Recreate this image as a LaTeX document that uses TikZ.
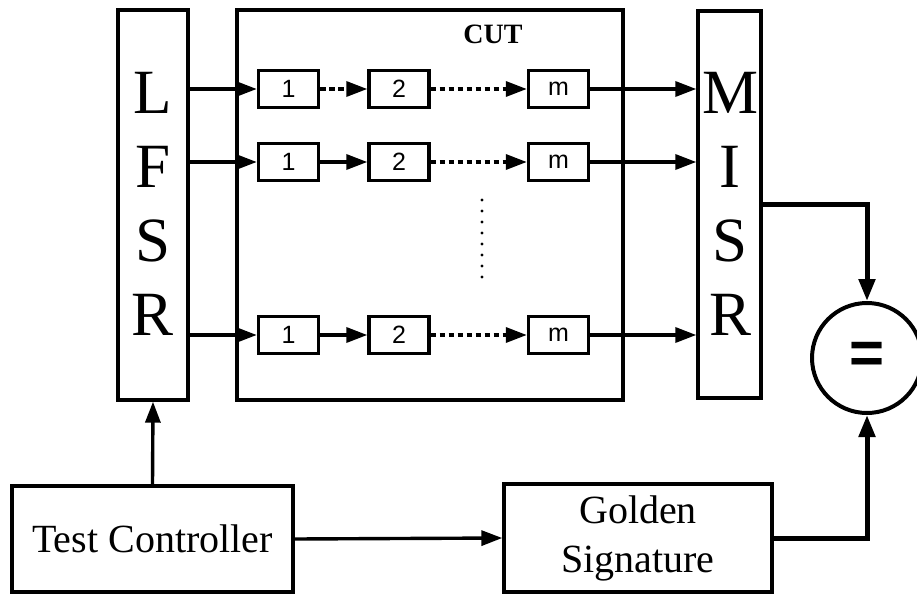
\documentclass[tikz,border=0pt]{standalone}
\usepackage{fontspec}
\setmainfont{Liberation Serif}
\newfontfamily\arialf{Liberation Sans}
\usetikzlibrary{arrows.meta}
\tikzset{
  box/.style={draw, line width=3.4pt, rectangle, inner sep=0pt},
  cell/.style={box, minimum width=60pt, minimum height=37pt, font=\arialf\fontsize{25}{25}\selectfont},
  bigletter/.style={anchor=base, font=\fontsize{63}{63}\selectfont, inner sep=0pt},
  arr/.style={-{Triangle[length=21pt,width=15pt]}, line width=3.4pt},
  darr/.style={arr, dash pattern=on 5.5pt off 3.5pt},
  thickarr/.style={-{Triangle[length=22pt,width=16pt]}, line width=5pt},
}
\begin{document}
\begin{tikzpicture}[x=1pt,y=-1pt]
\useasboundingbox (0,0) rectangle (917,594);
% main blocks
\node[box, minimum width=70pt, minimum height=390pt] (lfsr) at (153,205) {};
\node[box, minimum width=386pt, minimum height=390pt] (cut) at (430,205) {};
\node[box, minimum width=63pt, minimum height=387pt] (misr) at (729.5,204.5) {};
\node[font=\bfseries\fontsize{28}{30}\selectfont, inner sep=0pt] (cutlbl) at (493,34) {CUT};
% letters
\node[bigletter] (l1) at (153,113) {L};
\node[bigletter] (l2) at (153,187) {F};
\node[bigletter] (l3) at (153,261) {S};
\node[bigletter] (l4) at (153,335) {R};
\node[bigletter] (m1) at (730,113) {M};
\node[bigletter] (m2) at (730,187) {I};
\node[bigletter] (m3) at (730,261) {S};
\node[bigletter] (m4) at (730,335) {R};
% cells
\node[cell] (a1) at (288.5,89) {1};
\node[cell] (a2) at (399,89) {2};
\node[cell] (am) at (558.5,89) {m};
\node[cell] (b1) at (288.5,162) {1};
\node[cell] (b2) at (399,162) {2};
\node[cell] (bm) at (558.5,162) {m};
\node[cell] (c1) at (288.5,335) {1};
\node[cell] (c2) at (399,335) {2};
\node[cell] (cm) at (558.5,335) {m};
% row 1
\draw[arr] (lfsr.east |- a1) -- (a1.west);
\draw[darr] (a1.east) -- (a2.west);
\draw[darr] (a2.east) -- (am.west);
\draw[arr] (am.east) -- (misr.west |- am);
% row 2
\draw[arr] (lfsr.east |- b1) -- (b1.west);
\draw[arr] (b1.east) -- (b2.west);
\draw[darr] (b2.east) -- (bm.west);
\draw[arr] (bm.east) -- (misr.west |- bm);
% row 3
\draw[arr] (lfsr.east |- c1) -- (c1.west);
\draw[arr] (c1.east) -- (c2.west);
\draw[darr] (c2.east) -- (cm.west);
\draw[arr] (cm.east) -- (misr.west |- cm);
% vertical dots
\foreach \i in {0,...,7} \fill (482,{200+11*\i}) circle (1.7pt);
% bottom blocks
\node[box, minimum width=281pt, minimum height=106pt, font=\fontsize{40}{49}\selectfont] (tc) at (152.5,539) {Test Controller};
\node[box, minimum width=268pt, minimum height=108pt, align=center, font=\fontsize{40}{49}\selectfont] (gs) at (638,538) {Golden\\Signature};
\node[draw, circle, line width=4pt, minimum size=110pt, inner sep=0pt, font=\arialf\bfseries\fontsize{60}{60}\selectfont] (eq) at (867,358) {=};
% connectors
\draw[arr] (tc.north) -- (lfsr.south);
\draw[arr] (tc.east) -- (gs.west);
\draw[thickarr] (gs.east) -| (eq.south);
\draw[thickarr] (misr.east) -| (eq.north);
\end{tikzpicture}
\end{document}
